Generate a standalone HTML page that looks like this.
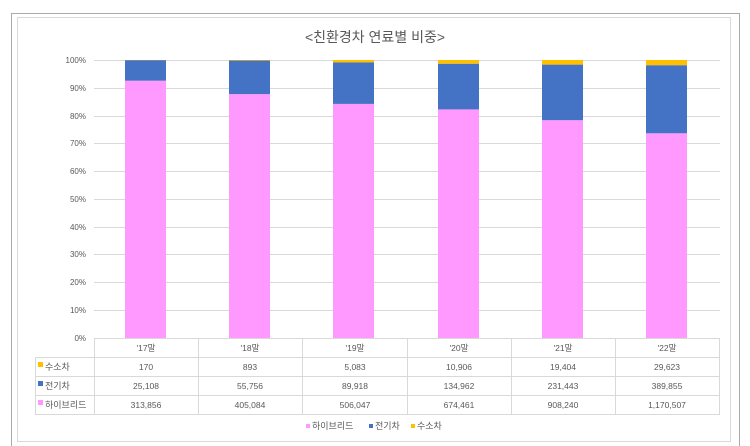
<!DOCTYPE html>
<html><head><meta charset="utf-8"><style>
html,body{margin:0;padding:0;background:#fff;}
svg{display:block;font-family:"Liberation Sans","Noto Sans CJK KR",sans-serif;}
</style></head><body>
<svg width="750" height="446" viewBox="0 0 750 446" xmlns="http://www.w3.org/2000/svg">
<rect x="11.5" y="13.5" width="728" height="440" fill="none" stroke="#555" stroke-dasharray="1,1"/>
<rect x="17.5" y="17.5" width="713" height="424" fill="#fff" stroke="#d9d9d9"/>
<text x="375" y="42" text-anchor="middle" font-size="14" fill="#595959">&lt;친환경차 연료별 비중&gt;</text>
<g stroke="#d9d9d9" stroke-width="1">
<line x1="94" x2="720" y1="60.5" y2="60.5"/><line x1="94" x2="720" y1="88.5" y2="88.5"/>
<line x1="94" x2="720" y1="116.5" y2="116.5"/><line x1="94" x2="720" y1="143.5" y2="143.5"/>
<line x1="94" x2="720" y1="171.5" y2="171.5"/><line x1="94" x2="720" y1="199.5" y2="199.5"/>
<line x1="94" x2="720" y1="227.5" y2="227.5"/><line x1="94" x2="720" y1="254.5" y2="254.5"/>
<line x1="94" x2="720" y1="282.5" y2="282.5"/><line x1="94" x2="720" y1="310.5" y2="310.5"/>
</g>
<g font-size="8" fill="#595959" text-anchor="end">
<text x="86" y="63">100%</text><text x="86" y="91">90%</text><text x="86" y="119">80%</text>
<text x="86" y="146">70%</text><text x="86" y="174">60%</text><text x="86" y="202">50%</text>
<text x="86" y="230">40%</text><text x="86" y="257">30%</text><text x="86" y="285">20%</text>
<text x="86" y="313">10%</text><text x="86" y="341">0%</text>
</g>
<!-- bars: 0%=338, 100%=60, scale 2.78 -->
<g>
<rect x="125" y="80.7" width="41" height="257.3" fill="#FF99FF"/><rect x="125" y="60.1" width="41" height="20.6" fill="#4472C4"/><rect x="125" y="60" width="41" height="0.2" fill="#FFC000"/>
<rect x="229" y="94.1" width="41" height="243.9" fill="#FF99FF"/><rect x="229" y="60.5" width="41" height="33.6" fill="#4472C4"/><rect x="229" y="60" width="41" height="0.6" fill="#FFC000"/>
<rect x="333" y="103.9" width="41" height="234.1" fill="#FF99FF"/><rect x="333" y="62.3" width="41" height="41.6" fill="#4472C4"/><rect x="333" y="60" width="41" height="2.4" fill="#FFC000"/>
<rect x="438" y="109.4" width="41" height="228.6" fill="#FF99FF"/><rect x="438" y="63.7" width="41" height="45.7" fill="#4472C4"/><rect x="438" y="60" width="41" height="3.7" fill="#FFC000"/>
<rect x="542" y="120.2" width="41" height="217.8" fill="#FF99FF"/><rect x="542" y="64.6" width="41" height="55.6" fill="#4472C4"/><rect x="542" y="60" width="41" height="4.6" fill="#FFC000"/>
<rect x="646" y="133.3" width="41" height="204.7" fill="#FF99FF"/><rect x="646" y="65.2" width="41" height="68.1" fill="#4472C4"/><rect x="646" y="60" width="41" height="5.2" fill="#FFC000"/>
</g>
<!-- table -->
<g stroke="#d9d9d9" stroke-width="1" fill="none">
<line x1="94" x2="720" y1="338.5" y2="338.5"/>
<line x1="35" x2="720" y1="357.5" y2="357.5"/>
<line x1="35" x2="720" y1="376.5" y2="376.5"/>
<line x1="35" x2="720" y1="395.5" y2="395.5"/>
<line x1="35" x2="720" y1="414.5" y2="414.5"/>
<line x1="35.5" x2="35.5" y1="357" y2="415"/>
<line x1="94.5" x2="94.5" y1="338" y2="415"/>
<line x1="198.5" x2="198.5" y1="338" y2="415"/>
<line x1="302.5" x2="302.5" y1="338" y2="415"/>
<line x1="407.5" x2="407.5" y1="338" y2="415"/>
<line x1="511.5" x2="511.5" y1="338" y2="415"/>
<line x1="615.5" x2="615.5" y1="338" y2="415"/>
<line x1="719.5" x2="719.5" y1="338" y2="415"/>
</g>
<g font-size="8.5" fill="#595959" text-anchor="middle">
<text x="146" y="351">'17말</text><text x="250" y="351">'18말</text><text x="355" y="351">'19말</text><text x="459" y="351">'20말</text><text x="563" y="351">'21말</text><text x="667" y="351">'22말</text>
<text x="146" y="370">170</text><text x="250" y="370">893</text><text x="355" y="370">5,083</text><text x="459" y="370">10,906</text><text x="563" y="370">19,404</text><text x="667" y="370">29,623</text>
<text x="146" y="389">25,108</text><text x="250" y="389">55,756</text><text x="355" y="389">89,918</text><text x="459" y="389">134,962</text><text x="563" y="389">231,443</text><text x="667" y="389">389,855</text>
<text x="146" y="408">313,856</text><text x="250" y="408">405,084</text><text x="355" y="408">506,047</text><text x="459" y="408">674,461</text><text x="563" y="408">908,240</text><text x="667" y="408">1,170,507</text>
</g>
<g font-size="9" fill="#595959">
<rect x="38" y="362" width="5" height="5" fill="#FFC000"/><text x="45" y="370">수소차</text>
<rect x="38" y="381" width="5" height="5" fill="#4472C4"/><text x="45" y="389">전기차</text>
<rect x="38" y="400" width="5" height="5" fill="#FF99FF"/><text x="45" y="408">하이브리드</text>
<rect x="306" y="424" width="4" height="4" fill="#FF99FF"/><text x="312" y="429">하이브리드</text>
<rect x="369" y="424" width="4" height="4" fill="#4472C4"/><text x="375" y="429">전기차</text>
<rect x="411" y="424" width="4" height="4" fill="#FFC000"/><text x="417" y="429">수소차</text>
</g>
</svg>
</body></html>
